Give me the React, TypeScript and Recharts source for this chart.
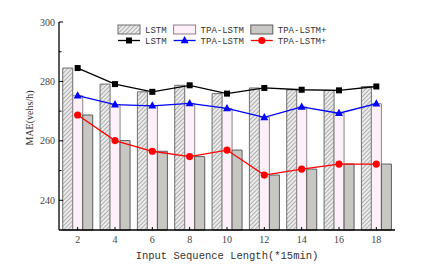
import React from "react";
import { ComposedChart, Bar, Line, XAxis, YAxis, Legend } from "recharts";

const seqLengths = ["2", "4", "6", "8", "10", "12", "14", "16", "18"];
const lstmMae = [284.5, 279.1, 276.5, 278.7, 275.9, 277.8, 277.2, 277.0, 278.3];
const tpaLstmMae = [275.2, 272.2, 271.8, 272.6, 270.9, 267.9, 271.4, 269.3, 272.5];
const tpaLstmPlusMae = [268.7, 260.1, 256.5, 254.7, 256.9, 248.5, 250.5, 252.2, 252.2];
const yTicks = [240, 250, 260, 270, 280, 290, 300];
const yDomain = [230, 300];

const data = seqLengths.map((len, i) => ({
  len,
  lstm: lstmMae[i],
  tpa: tpaLstmMae[i],
  tpaPlus: tpaLstmPlusMae[i],
}));

const serif = "'Liberation Serif', 'DejaVu Serif', serif";
const mono = "'Liberation Mono', 'DejaVu Sans Mono', monospace";

const Square = (props: any) => {
  const { cx, cy } = props;
  if (cx == null || cy == null) return null;
  return <rect x={cx - 3} y={cy - 3} width={6} height={6} fill="#000" />;
};
const Triangle = (props: any) => {
  const { cx, cy } = props;
  if (cx == null || cy == null) return null;
  return <polygon points={`${cx},${cy - 4.5} ${cx - 4},${cy + 2.8} ${cx + 4},${cy + 2.8}`} fill="#0000ff" />;
};
const Circle = (props: any) => {
  const { cx, cy } = props;
  if (cx == null || cy == null) return null;
  return <circle cx={cx} cy={cy} r={3.6} fill="#ff0000" />;
};

const barSeries = [
  { name: "LSTM", fill: "url(#hatch)", stroke: "#6e6e6e" },
  { name: "TPA-LSTM", fill: "#fdf0f8", stroke: "#8a8288" },
  { name: "TPA-LSTM+", fill: "#c8c7c3", stroke: "#5c5c5c" },
];
const lineSeries = [
  { name: "LSTM", color: "#000000", Marker: Square },
  { name: "TPA-LSTM", color: "#0000ff", Marker: Triangle },
  { name: "TPA-LSTM+", color: "#ff0000", Marker: Circle },
];

function LegendBox() {
  // two rows: bar swatches on top, line symbols below
  let x = 6;
  const starts = barSeries.map((s) => {
    const start = x;
    x += 22 + 5 + s.name.length * 5.4 + 7;
    return start;
  });
  return (
    <svg width={240} height={26} style={{ display: "block" }}>
      {barSeries.map((s, i) => (
        <g key={"b" + i}>
          <rect x={starts[i]} y={3} width={22} height={9} fill={s.fill} stroke={s.stroke} strokeWidth={1} />
          <text x={starts[i] + 27} y={11} fontFamily={mono} fontSize={9} fill="#333">{s.name}</text>
        </g>
      ))}
      {lineSeries.map((s, i) => {
        const M = s.Marker;
        return (
          <g key={"l" + i}>
            <line x1={starts[i]} x2={starts[i] + 22} y1={18.5} y2={18.5} stroke={s.color} strokeWidth={1.3} />
            <M cx={starts[i] + 11} cy={18.5} />
            <text x={starts[i] + 27} y={22} fontFamily={mono} fontSize={9} fill="#333">{s.name}</text>
          </g>
        );
      })}
    </svg>
  );
}

const YTick = (props: any) => {
  const { x, y, payload } = props;
  const major = payload.value % 20 === 0;
  return (
    <g>
      <line x1={x} x2={x + (major ? 4 : 2.5)} y1={y} y2={y} stroke="#000" strokeWidth={1} />
      {major && (
        <text x={x - 4} y={y + 3.5} textAnchor="end" fontFamily={serif} fontSize={10} fill="#444">
          {payload.value}
        </text>
      )}
    </g>
  );
};

const XTick = (props: any) => {
  const { x, y, payload } = props;
  return (
    <g>
      <line x1={x} x2={x} y1={y} y2={y - 3} stroke="#000" strokeWidth={1} />
      <text x={x} y={y + 12.5} textAnchor="middle" fontFamily={serif} fontSize={10} fill="#444">
        {payload.value}
      </text>
    </g>
  );
};

export default function App() {
  return (
    <div style={{ position: "absolute", left: 0, top: 0, width: 433, height: 277, background: "#fff" }}>
      <svg width={0} height={0} style={{ position: "absolute" }}>
        <defs>
          <pattern id="hatch" patternUnits="userSpaceOnUse" width={3} height={3} patternTransform="rotate(45)">
            <rect width={3} height={3} fill="#ececec" />
            <line x1={0} y1={0} x2={0} y2={3} stroke="#8c8c8c" strokeWidth={1.3} />
          </pattern>
        </defs>
      </svg>
      <ComposedChart
        width={433}
        height={277}
        data={data}
        margin={{ top: 22, right: 38, bottom: 0, left: 0 }}
        barCategoryGap="10%"
        barGap={0}
      >
        <XAxis
          dataKey="len"
          height={47}
          tickSize={0}
          tickMargin={0}
          tickLine={false}
          tick={<XTick />}
          interval={0}
          axisLine={{ stroke: "#000", strokeWidth: 1.3 }}
          label={{
            value: "Input Sequence Length(*15min)",
            position: "center",
            dy: 2,
            fontFamily: mono,
            fontSize: 10.5,
            fill: "#333",
          }}
        />
        <XAxis
          xAxisId="top"
          orientation="top"
          dataKey="len"
          height={0}
          tick={false}
          tickLine={false}
          axisLine={{ stroke: "#000", strokeWidth: 1.3 }}
        />
        <YAxis
          width={59}
          domain={yDomain}
          ticks={yTicks}
          interval={0}
          tickSize={0}
          tickMargin={0}
          tickLine={false}
          tick={<YTick />}
          axisLine={{ stroke: "#000", strokeWidth: 1.3 }}
          label={{
            value: "MAE(vehs/h)",
            angle: -90,
            position: "center",
            dx: 0,
            dy: -8,
            fontFamily: serif,
            fontSize: 10,
            fill: "#333",
          }}
        />
        <YAxis
          yAxisId="right"
          orientation="right"
          width={0}
          domain={yDomain}
          tick={false}
          tickLine={false}
          axisLine={{ stroke: "#000", strokeWidth: 1.3 }}
        />
        <Legend verticalAlign="middle" align="center" layout="horizontal" wrapperStyle={{ top: 22, left: 112, width: 240, height: 26 }} content={<LegendBox />} />
        <Bar dataKey="lstm" name="LSTM" fill="url(#hatch)" stroke="#6e6e6e" strokeWidth={1} isAnimationActive={false} />
        <Bar dataKey="tpa" name="TPA-LSTM" fill="#fdf0f8" stroke="#8a8288" strokeWidth={1} isAnimationActive={false} />
        <Bar dataKey="tpaPlus" name="TPA-LSTM+" fill="#c8c7c3" stroke="#5c5c5c" strokeWidth={1} isAnimationActive={false} />
        <Line dataKey="lstm" name="LSTM" stroke="#000" strokeWidth={1.3} dot={<Square />} activeDot={false} legendType="none" isAnimationActive={false} />
        <Line dataKey="tpa" name="TPA-LSTM" stroke="#0000ff" strokeWidth={1.3} dot={<Triangle />} activeDot={false} legendType="none" isAnimationActive={false} />
        <Line dataKey="tpaPlus" name="TPA-LSTM+" stroke="#ff0000" strokeWidth={1.3} dot={<Circle />} activeDot={false} legendType="none" isAnimationActive={false} />
      </ComposedChart>
    </div>
  );
}
